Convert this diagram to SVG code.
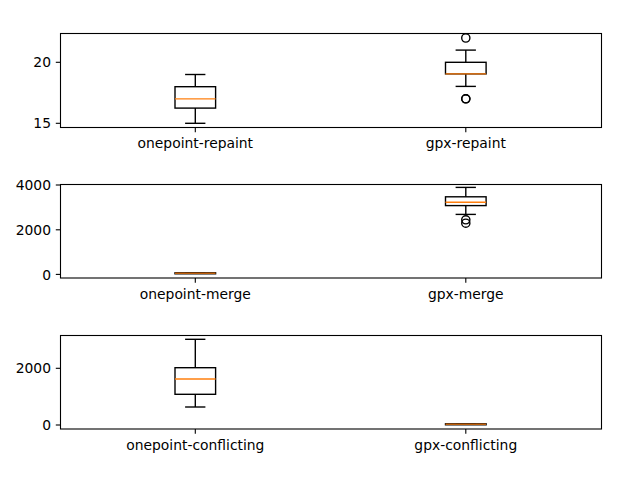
<svg xmlns="http://www.w3.org/2000/svg" width="640" height="480" viewBox="0 0 640 480">
<style>
.ax{fill:none;stroke:#000;stroke-width:1.1}
.tk{stroke:#000;stroke-width:1.1}
.bx{fill:none;stroke:#000;stroke-width:1.39}
.md{stroke:#ff7f0e;stroke-width:1.39}
.fl{fill:none;stroke:#000;stroke-width:1.39}
.t{font-family:"DejaVu Sans",sans-serif;font-size:13.89px;fill:#000}
.yl{text-anchor:end}
.xl{text-anchor:middle}
</style>
<rect width="640" height="480" fill="#fff"/>

<g id="subplot1">
  <rect class="ax" x="60.5" y="33.5" width="541" height="94"/>
  <g id="s1-ticks">
    <line class="tk" x1="55.8" y1="62.3" x2="60.5" y2="62.3"/>
    <line class="tk" x1="55.8" y1="123.3" x2="60.5" y2="123.3"/>
    <text class="t yl" x="51" y="67.4">20</text>
    <text class="t yl" x="51" y="128.4">15</text>
    <line class="tk" x1="195.3" y1="127.5" x2="195.3" y2="132.2"/>
    <line class="tk" x1="465.8" y1="127.5" x2="465.8" y2="132.2"/>
    <text class="t xl" x="195.3" y="147.8">onepoint-repaint</text>
    <text class="t xl" x="465.8" y="147.8">gpx-repaint</text>
  </g>
  <g id="box-onepoint-repaint">
    <rect class="bx" x="175" y="86.7" width="40.6" height="21.4"/>
    <line class="bx" x1="195.3" y1="108.1" x2="195.3" y2="123.3"/>
    <line class="bx" x1="195.3" y1="86.7" x2="195.3" y2="74.5"/>
    <line class="bx" x1="185.1" y1="123.3" x2="205.4" y2="123.3"/>
    <line class="bx" x1="185.1" y1="74.5" x2="205.4" y2="74.5"/>
    <line class="md" x1="175" y1="98.9" x2="215.6" y2="98.9"/>
  </g>
  <g id="box-gpx-repaint">
    <rect class="bx" x="445.5" y="62.3" width="40.6" height="11.6"/>
    <line class="bx" x1="465.8" y1="73.9" x2="465.8" y2="86.4"/>
    <line class="bx" x1="465.8" y1="62.3" x2="465.8" y2="50.1"/>
    <line class="bx" x1="455.6" y1="86.4" x2="475.9" y2="86.4"/>
    <line class="bx" x1="455.6" y1="50.1" x2="475.9" y2="50.1"/>
    <line class="md" x1="445.5" y1="73.9" x2="486.1" y2="73.9"/>
    <circle class="fl" cx="465.8" cy="38" r="4.1"/>
    <circle class="fl" cx="465.8" cy="98.8" r="4.1"/>
    <circle class="fl" cx="465.8" cy="98.8" r="4.1"/>
  </g>
</g>

<g id="subplot2">
  <rect class="ax" x="60.5" y="184.5" width="541" height="93.5"/>
  <g id="s2-ticks">
    <line class="tk" x1="55.8" y1="185" x2="60.5" y2="185"/>
    <line class="tk" x1="55.8" y1="229.8" x2="60.5" y2="229.8"/>
    <line class="tk" x1="55.8" y1="274.4" x2="60.5" y2="274.4"/>
    <text class="t yl" x="51" y="190.1">4000</text>
    <text class="t yl" x="51" y="234.9">2000</text>
    <text class="t yl" x="51" y="279.5">0</text>
    <line class="tk" x1="195.3" y1="278" x2="195.3" y2="282.7"/>
    <line class="tk" x1="465.8" y1="278" x2="465.8" y2="282.7"/>
    <text class="t xl" x="195.3" y="298.5">onepoint-merge</text>
    <text class="t xl" x="465.8" y="298.5">gpx-merge</text>
  </g>
  <g id="box-onepoint-merge">
    <rect class="bx" x="175" y="272.8" width="40.6" height="1"/>
    <line class="bx" x1="185.1" y1="273.3" x2="205.4" y2="273.3"/>
    <line class="md" x1="175" y1="273.3" x2="215.6" y2="273.3" stroke-opacity="0.75"/>
  </g>
  <g id="box-gpx-merge">
    <rect class="bx" x="445.5" y="196.8" width="40.6" height="8.8"/>
    <line class="bx" x1="465.8" y1="205.6" x2="465.8" y2="214.4"/>
    <line class="bx" x1="465.8" y1="196.8" x2="465.8" y2="187.4"/>
    <line class="bx" x1="455.6" y1="214.4" x2="475.9" y2="214.4"/>
    <line class="bx" x1="455.6" y1="187.4" x2="475.9" y2="187.4"/>
    <line class="md" x1="445.5" y1="202.3" x2="486.1" y2="202.3"/>
    <circle class="fl" cx="465.8" cy="219.8" r="4.1"/>
    <circle class="fl" cx="465.8" cy="223.2" r="4.1"/>
  </g>
</g>

<g id="subplot3">
  <rect class="ax" x="60.5" y="335.5" width="541" height="93.5"/>
  <g id="s3-ticks">
    <line class="tk" x1="55.8" y1="368.3" x2="60.5" y2="368.3"/>
    <line class="tk" x1="55.8" y1="425" x2="60.5" y2="425"/>
    <text class="t yl" x="51" y="373.4">2000</text>
    <text class="t yl" x="51" y="430.1">0</text>
    <line class="tk" x1="195.3" y1="429" x2="195.3" y2="433.7"/>
    <line class="tk" x1="465.8" y1="429" x2="465.8" y2="433.7"/>
    <text class="t xl" x="195.3" y="449.5">onepoint-conflicting</text>
    <text class="t xl" x="465.8" y="449.5">gpx-conflicting</text>
  </g>
  <g id="box-onepoint-conflicting">
    <rect class="bx" x="175" y="367.7" width="40.6" height="26.6"/>
    <line class="bx" x1="195.3" y1="394.3" x2="195.3" y2="407"/>
    <line class="bx" x1="195.3" y1="367.7" x2="195.3" y2="339.3"/>
    <line class="bx" x1="185.1" y1="407" x2="205.4" y2="407"/>
    <line class="bx" x1="185.1" y1="339.3" x2="205.4" y2="339.3"/>
    <line class="md" x1="175" y1="379" x2="215.6" y2="379"/>
  </g>
  <g id="box-gpx-conflicting">
    <rect class="bx" x="445.5" y="423.8" width="40.6" height="1"/>
    <line class="bx" x1="455.6" y1="424.3" x2="475.9" y2="424.3"/>
    <line class="md" x1="445.5" y1="424.3" x2="486.1" y2="424.3" stroke-opacity="0.75"/>
  </g>
</g>
</svg>
